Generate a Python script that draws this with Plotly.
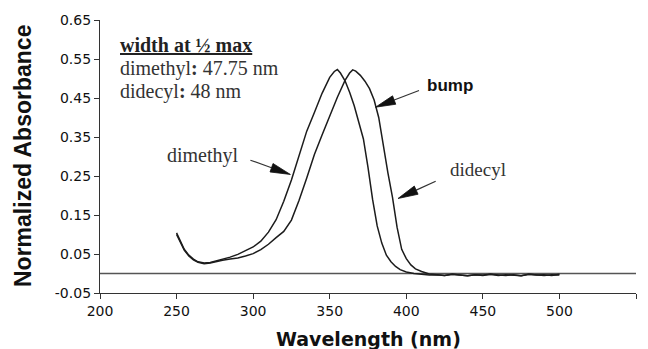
import plotly.graph_objects as go

# ---------------- data ----------------
wl_dimethyl = [250, 252, 255, 258, 261, 264, 268, 272, 276, 280, 285, 290, 295, 300,
               305, 310, 315, 320, 325, 330, 335, 340, 345, 350, 353, 355, 357, 360,
               363, 366, 369, 372, 375, 378, 381, 384, 387, 390, 393, 396, 400, 405,
               410, 415, 420, 425, 430, 435, 440, 445, 450, 455, 460, 465, 470, 475,
               480, 485, 490, 495, 500]
abs_dimethyl = [0.104, 0.086, 0.062, 0.047, 0.037, 0.030, 0.027, 0.028, 0.032, 0.036,
                0.042, 0.049, 0.058, 0.068, 0.083, 0.106, 0.138, 0.185, 0.240, 0.305,
                0.365, 0.413, 0.462, 0.503, 0.518, 0.523, 0.514, 0.494, 0.465, 0.430,
                0.390, 0.345, 0.272, 0.190, 0.122, 0.078, 0.047, 0.030, 0.018, 0.010,
                0.004, 0.000,
                -0.002, -0.004, -0.003, -0.005, -0.002, -0.004, -0.006, -0.003, -0.004,
                -0.002, -0.005, -0.003, -0.004, -0.006, -0.002, -0.004, -0.003, -0.005,
                -0.002]

wl_didecyl = [250, 252, 255, 258, 261, 264, 268, 272, 276, 280, 285, 290, 295, 300,
              305, 310, 315, 320, 325, 330, 335, 340, 345, 350, 355, 360, 363, 365,
              367, 370, 373, 376, 379, 382, 385, 388, 391, 394, 397, 400, 403, 406,
              410, 415, 420, 425, 430, 435, 440, 445, 450, 455, 460, 465, 470, 475,
              480, 485, 490, 495, 500]
abs_didecyl = [0.100, 0.084, 0.060, 0.045, 0.035, 0.029, 0.025, 0.027, 0.031, 0.034,
               0.037, 0.040, 0.045, 0.051, 0.061, 0.075, 0.092, 0.108, 0.137, 0.188,
               0.245, 0.305, 0.355, 0.405, 0.452, 0.495, 0.514, 0.522, 0.519, 0.508,
               0.493, 0.474, 0.445, 0.400, 0.326, 0.258, 0.195, 0.118, 0.062, 0.038,
               0.022, 0.012, 0.005, -0.001,
               -0.003, -0.005, -0.002, -0.004, -0.006, -0.003, -0.005, -0.002, -0.004,
               -0.005, -0.003, -0.006, -0.002, -0.004, -0.005, -0.003, -0.004]

x_ticks = [200, 250, 300, 350, 400, 450, 500, 550]
y_ticks = [-0.05, 0.05, 0.15, 0.25, 0.35, 0.45, 0.55, 0.65]
y_tick_labels = ["-0.05", "0.05", "0.15", "0.25", "0.35", "0.45", "0.55", "0.65"]

# ---------------- layout geometry ----------------
W, H = 648, 349
ML, MR, MT, MB = 100, 12, 20, 56
X_RANGE = [200, 550]
Y_RANGE = [-0.05, 0.65]
PX_X = (W - ML - MR) / (X_RANGE[1] - X_RANGE[0])
PX_Y = (H - MT - MB) / (Y_RANGE[1] - Y_RANGE[0])

LINE_COLOR = "#1c1c1c"

fig = go.Figure()
fig.add_trace(go.Scatter(x=wl_dimethyl, y=abs_dimethyl, mode="lines", name="dimethyl",
                         line=dict(color=LINE_COLOR, width=1.5)))
fig.add_trace(go.Scatter(x=wl_didecyl, y=abs_didecyl, mode="lines", name="didecyl",
                         line=dict(color=LINE_COLOR, width=1.5)))

shapes = [dict(type="line", xref="x", yref="y", x0=X_RANGE[0], x1=X_RANGE[1], y0=0, y1=0,
               line=dict(color="#555555", width=1.6), layer="below")]

# arrows: (tail, tip) in data coordinates
arrows = [((298.2, 0.2905), (324.3, 0.254)),   # dimethyl
          ((419.2, 0.2367), (394.6, 0.1923)),  # didecyl
          ((408.3, 0.4692), (379.9, 0.4264))]  # bump
HEAD_LEN, HEAD_HALF_W = 20, 4.5
for (sx, sy), (tx, ty) in arrows:
    dx = (tx - sx) * PX_X
    dy = (ty - sy) * PX_Y
    L = (dx * dx + dy * dy) ** 0.5
    ux, uy = dx / L, dy / L
    nx, ny = -uy, ux
    bx = tx - HEAD_LEN * ux / PX_X
    by = ty - HEAD_LEN * uy / PX_Y
    c1x, c1y = bx + HEAD_HALF_W * nx / PX_X, by + HEAD_HALF_W * ny / PX_Y
    c2x, c2y = bx - HEAD_HALF_W * nx / PX_X, by - HEAD_HALF_W * ny / PX_Y
    shapes.append(dict(type="line", xref="x", yref="y", x0=sx, y0=sy, x1=bx, y1=by,
                       line=dict(color="#333333", width=1.2)))
    shapes.append(dict(type="path", xref="x", yref="y",
                       path=f"M{tx},{ty} L{c1x},{c1y} L{c2x},{c2y} Z",
                       fillcolor="#111111", line=dict(color="#111111", width=0.8)))

serif = "Liberation Serif, Times New Roman, serif"
annotations = [
    dict(x=211.5, y=0.5853, xref="x", yref="y", xanchor="left", yanchor="middle",
         text="<b><u>width at ½ max</u></b>", showarrow=False,
         font=dict(family=serif, size=20, color="#222222")),
    dict(x=211.5, y=0.5253, xref="x", yref="y", xanchor="left", yanchor="middle",
         text="dimethyl<b>:</b> 47.75 nm", showarrow=False,
         font=dict(family=serif, size=20, color="#333333")),
    dict(x=211.5, y=0.4673, xref="x", yref="y", xanchor="left", yanchor="middle",
         text="didecyl<b>:</b> 48 nm", showarrow=False,
         font=dict(family=serif, size=20, color="#333333")),
    dict(x=267.1, y=0.3033, xref="x", yref="y", xanchor="center", yanchor="middle",
         text="dimethyl", showarrow=False,
         font=dict(family=serif, size=20, color="#333333")),
    dict(x=447.1, y=0.2674, xref="x", yref="y", xanchor="center", yanchor="middle",
         text="didecyl", showarrow=False,
         font=dict(family=serif, size=19, color="#333333")),
    dict(x=428.5, y=0.4828, xref="x", yref="y", xanchor="center", yanchor="middle",
         text="<b>bump</b>", showarrow=False,
         font=dict(family="Liberation Sans, Arial, sans-serif", size=17, color="#111111")),
    # axis titles
    dict(x=(22.5 - ML) / (W - ML - MR), y=0.5, xref="paper", yref="paper",
         xanchor="center", yanchor="middle", textangle=-90,
         text="<b>Normalized Absorbance</b>", showarrow=False,
         font=dict(family="Liberation Sans, Arial, sans-serif", size=23, color="#111111")),
    dict(x=0.5, y=(H - MB - 339) / (H - MT - MB), xref="paper", yref="paper",
         xanchor="center", yanchor="middle",
         text="<b>Wavelength (nm)</b>", showarrow=False,
         font=dict(family="DejaVu Sans, sans-serif", size=19, color="#111111")),
]

tick_font = dict(family="DejaVu Sans, sans-serif", size=14, color="#111111")
fig.update_layout(
    width=W, height=H,
    margin=dict(l=ML, r=MR, t=MT, b=MB),
    paper_bgcolor="white", plot_bgcolor="white",
    showlegend=False,
    shapes=shapes,
    annotations=annotations,
    xaxis=dict(range=X_RANGE, tickvals=x_ticks, ticks="outside", ticklen=5,
               tickwidth=1.2, tickcolor="#333333", showline=True, linecolor="#333333",
               linewidth=1.3, showgrid=False, zeroline=False, tickfont=tick_font),
    yaxis=dict(range=Y_RANGE, tickvals=y_ticks, ticktext=y_tick_labels, ticks="outside",
               ticklen=5, tickwidth=1.2, tickcolor="#333333", showline=True,
               linecolor="#333333", linewidth=1.3, showgrid=False, zeroline=False,
               tickfont=tick_font),
)

fig.write_html("out.html")
